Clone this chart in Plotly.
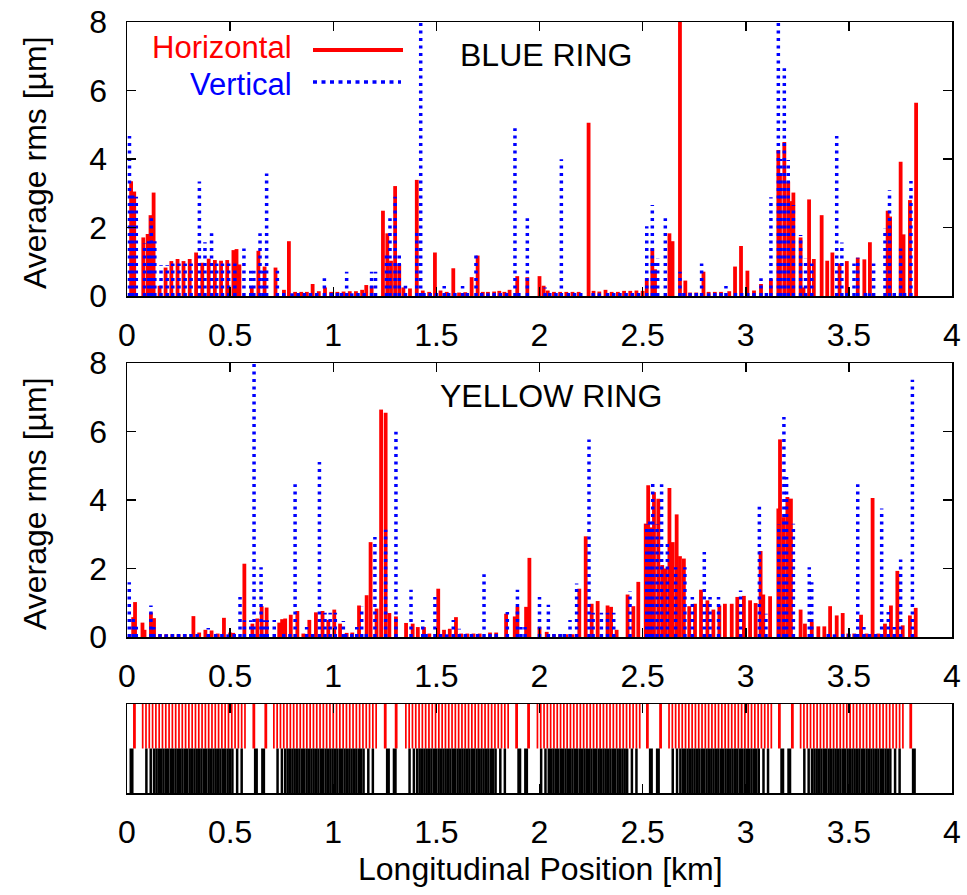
import plotly.graph_objects as go

FONT = "Liberation Sans, Arial, Helvetica, sans-serif"
W, H = 967, 895

# ---------------- BLUE RING ----------------
blue_h_pos = [0.020, 0.035, 0.079, 0.100, 0.114, 0.129, 0.158, 0.187, 0.215, 0.245,
              0.274, 0.304, 0.335, 0.365, 0.396, 0.426, 0.456, 0.486, 0.516, 0.531,
              0.545, 0.605, 0.637, 0.667, 0.720, 0.761, 0.785, 0.815, 0.845, 0.872,
              0.900, 0.930, 0.960, 0.990, 1.020, 1.050, 1.080, 1.110, 1.140, 1.160,
              1.186, 1.241, 1.262, 1.280, 1.300, 1.320, 1.340, 1.372, 1.405, 1.434,
              1.465, 1.493, 1.520, 1.550, 1.582, 1.610, 1.640, 1.671, 1.700, 1.725,
              1.750, 1.780, 1.805, 1.830, 1.855, 1.892, 1.941, 2.000, 2.020, 2.040,
              2.070, 2.100, 2.130, 2.160, 2.190, 2.238, 2.262, 2.290, 2.320, 2.350,
              2.380, 2.410, 2.440, 2.470, 2.500, 2.520, 2.547, 2.560, 2.630, 2.645,
              2.681, 2.707, 2.730, 2.760, 2.795, 2.820, 2.850, 2.880, 2.920, 2.948,
              2.977, 3.008, 3.040, 3.074, 3.122, 3.158, 3.166, 3.187, 3.206, 3.223,
              3.231, 3.266, 3.280, 3.307, 3.330, 3.368, 3.395, 3.420, 3.455, 3.490,
              3.543, 3.575, 3.602, 3.688, 3.700, 3.751, 3.765, 3.796, 3.826]
blue_h_val = [3.35, 3.05, 1.71, 1.81, 2.36, 3.02, 0.30, 0.83, 1.02, 1.08,
              1.02, 1.08, 1.27, 0.97, 1.09, 1.05, 1.03, 1.05, 1.34, 1.37,
              0.92, 0.27, 1.32, 0.86, 0.83, 0.18, 1.60, 0.12, 0.12, 0.12,
              0.35, 0.14, 0.25, 0.12, 0.12, 0.13, 0.14, 0.14, 0.18, 0.32,
              0.29, 2.49, 1.83, 1.03, 3.21, 0.93, 0.25, 0.22, 3.39, 0.16,
              0.12, 1.27, 0.16, 0.12, 0.81, 0.10, 0.11, 0.55, 1.18, 0.12,
              0.12, 0.13, 0.15, 0.12, 0.18, 0.58, 0.55, 0.58, 0.30, 0.16,
              0.12, 0.12, 0.12, 0.12, 0.12, 5.06, 0.15, 0.13, 0.18, 0.12,
              0.12, 0.15, 0.15, 0.16, 0.15, 0.52, 1.39, 0.78, 1.83, 1.60,
              8.50, 0.45, 0.10, 0.10, 0.71, 0.12, 0.12, 0.12, 0.14, 0.86,
              1.46, 0.74, 0.16, 0.35, 0.49, 4.26, 3.58, 4.50, 3.34, 2.77,
              3.02, 1.71, 0.25, 2.82, 1.08, 2.36, 1.03, 1.27, 0.95, 1.02,
              1.12, 1.07, 1.57, 2.49, 2.32, 3.92, 1.80, 2.80, 5.64]

blue_v_pos = [0.012, 0.028, 0.045, 0.085, 0.105, 0.118, 0.135, 0.165, 0.195, 0.222,
              0.252, 0.282, 0.311, 0.351, 0.378, 0.410, 0.435, 0.463, 0.493, 0.523,
              0.567, 0.600, 0.615, 0.645, 0.660, 0.677, 0.729, 0.957, 1.065, 1.186,
              1.205, 1.258, 1.275, 1.300, 1.320, 1.350, 1.405, 1.424, 1.538, 1.627,
              1.692, 1.881, 1.941, 2.027, 2.106, 2.140, 2.520, 2.547, 2.560, 2.573,
              2.610, 2.681, 2.786, 2.904, 3.074, 3.122, 3.158, 3.170, 3.187, 3.206,
              3.231, 3.266, 3.290, 3.320, 3.441, 3.466, 3.525, 3.543, 3.620, 3.675,
              3.697, 3.751, 3.801,
              0.760, 0.800, 0.830, 0.860, 0.890, 0.920, 0.990, 1.020, 1.040, 1.090,
              1.120, 1.150, 1.440, 1.470, 1.500, 1.560, 1.590, 1.650, 1.720, 1.750,
              1.780, 1.810, 1.840, 1.900, 2.050, 2.080, 2.170, 2.200, 2.260, 2.290,
              2.330, 2.360, 2.390, 2.420, 2.450, 2.480, 2.700, 2.730, 2.760, 2.820,
              2.850, 2.880, 2.950, 2.980, 3.010, 3.040, 3.100, 3.490, 3.580, 3.600,
              3.720, 3.770]
blue_v_val = [4.67, 3.00, 2.90, 1.55, 1.60, 2.27, 1.60, 0.90, 0.90, 0.95,
              0.95, 0.95, 0.95, 3.34, 1.57, 1.83, 0.95, 0.95, 0.95, 0.95,
              1.39, 0.74, 0.74, 1.83, 0.74, 3.58, 0.74, 0.52, 0.71, 0.71,
              0.71, 1.20, 2.27, 2.90, 1.20, 0.30, 1.95, 8.50, 0.29, 0.29,
              1.18, 4.90, 2.27, 0.25, 3.99, 0.22, 2.04, 2.66, 1.00, 1.10,
              2.27, 0.71, 0.95, 0.29, 0.52, 2.88, 8.50, 4.00, 6.65, 3.97,
              2.66, 1.78, 1.10, 0.95, 4.67, 1.56, 0.95, 1.12, 0.95, 1.98,
              3.09, 1.39, 3.36,
              0.10, 0.08, 0.10, 0.12, 0.10, 0.09, 0.10, 0.12, 0.10, 0.08,
              0.10, 0.10, 0.12, 0.10, 0.09, 0.10, 0.10, 0.12, 0.10, 0.08,
              0.10, 0.10, 0.12, 0.10, 0.10, 0.09, 0.10, 0.12, 0.10, 0.08,
              0.10, 0.10, 0.12, 0.10, 0.10, 0.09, 0.10, 0.12, 0.10, 0.08,
              0.10, 0.10, 0.12, 0.10, 0.10, 0.09, 0.10, 0.12, 0.10, 0.08,
              0.10, 0.10]

# ---------------- YELLOW RING ----------------
yellow_h_pos = [0.030, 0.039, 0.075, 0.085, 0.116, 0.124, 0.131, 0.160, 0.190, 0.220,
                0.250, 0.280, 0.322, 0.350, 0.380, 0.410, 0.440, 0.470, 0.500, 0.515,
                0.569, 0.608, 0.632, 0.653, 0.677, 0.738, 0.752, 0.767, 0.794, 0.826,
                0.855, 0.884, 0.916, 0.948, 0.976, 1.005, 1.033, 1.065, 1.092, 1.125,
                1.162, 1.181, 1.210, 1.232, 1.254, 1.272, 1.304, 1.353, 1.385, 1.410,
                1.440, 1.466, 1.509, 1.537, 1.565, 1.595, 1.620, 1.650, 1.680, 1.710,
                1.760, 1.790, 1.838, 1.880, 1.893, 1.935, 1.951, 2.000, 2.035, 2.070,
                2.100, 2.130, 2.160, 2.193, 2.224, 2.253, 2.282, 2.330, 2.347, 2.374,
                2.427, 2.455, 2.479, 2.515, 2.527, 2.540, 2.555, 2.576, 2.595, 2.612,
                2.630, 2.646, 2.665, 2.681, 2.700, 2.726, 2.754, 2.783, 2.814, 2.843,
                2.872, 2.899, 2.932, 2.959, 2.991, 3.021, 3.048, 3.072, 3.085, 3.118,
                3.158, 3.166, 3.184, 3.202, 3.219, 3.266, 3.287, 3.320, 3.352, 3.381,
                3.409, 3.441, 3.470, 3.497, 3.526, 3.559, 3.586, 3.615, 3.643, 3.675,
                3.704, 3.735, 3.761, 3.796, 3.824]
yellow_h_val = [0.58, 1.02, 0.42, 0.21, 0.71, 0.34, 0.55, 0.08, 0.08, 0.08,
                0.08, 0.08, 0.61, 0.13, 0.21, 0.19, 0.10, 0.56, 0.13, 0.12,
                2.14, 0.39, 0.54, 0.90, 0.86, 0.42, 0.52, 0.54, 0.65, 0.76,
                0.10, 0.50, 0.72, 0.76, 0.50, 0.80, 0.39, 0.12, 0.13, 0.92,
                1.22, 2.77, 0.83, 6.64, 6.55, 0.70, 0.60, 0.41, 0.39, 0.29,
                0.29, 0.10, 1.41, 0.21, 0.24, 0.58, 0.10, 0.10, 0.10, 0.10,
                0.13, 0.13, 0.68, 0.60, 0.88, 0.88, 2.31, 0.29, 0.15, 0.08,
                0.08, 0.08, 0.08, 1.41, 2.94, 0.97, 1.05, 0.92, 0.88, 0.21,
                1.24, 0.90, 1.61, 3.31, 4.43, 3.20, 4.23, 4.04, 2.10, 2.00,
                4.35, 2.77, 3.58, 2.36, 2.29, 0.90, 0.97, 1.38, 1.07, 0.80,
                0.92, 0.97, 0.97, 1.17, 1.20, 1.07, 0.99, 2.51, 1.24, 1.19,
                3.75, 5.77, 3.50, 4.09, 4.04, 0.80, 0.39, 0.44, 0.31, 0.31,
                0.90, 0.63, 0.70, 0.10, 0.10, 0.65, 0.10, 4.06, 0.10, 0.39,
                0.92, 1.93, 0.34, 0.63, 0.85]

yellow_v_pos = [0.011, 0.030, 0.045, 0.116, 0.130, 0.394, 0.548, 0.569, 0.600, 0.616,
                0.650, 0.665, 0.680, 0.714, 0.815, 0.871, 0.933, 0.960, 0.985, 1.010,
                1.049, 1.114, 1.138, 1.202, 1.254, 1.304, 1.377, 1.434, 1.493, 1.582,
                1.611, 1.731, 1.844, 1.893, 1.910, 1.930, 2.000, 2.043, 2.148, 2.180,
                2.240, 2.260, 2.300, 2.330, 2.360, 2.439, 2.520, 2.535, 2.549, 2.570,
                2.592, 2.620, 2.660, 2.705, 2.741, 2.799, 2.827, 2.868, 2.975, 3.066,
                3.098, 3.160, 3.185, 3.198, 3.231, 3.308, 3.320, 3.543, 3.573, 3.659,
                3.691, 3.720, 3.751, 3.808,
                0.160, 0.190, 0.220, 0.250, 0.280, 0.310, 0.340, 0.430, 0.460, 0.490,
                0.520, 0.760, 0.790, 0.900, 1.060, 1.090, 1.160, 1.450, 1.520, 1.550,
                1.640, 1.670, 1.700, 1.760, 1.790, 2.070, 2.100, 2.120, 3.400, 3.430,
                3.470, 3.500, 3.530, 3.600, 3.630]
yellow_v_val = [1.60, 0.60, 0.30, 0.92, 0.29, 0.26, 1.17, 0.49, 0.49, 8.50,
                2.04, 0.49, 0.49, 0.50, 4.46, 0.29, 5.11, 0.71, 0.71, 0.71,
                0.47, 0.29, 0.88, 2.92, 3.13, 5.99, 1.38, 0.50, 1.17, 0.50,
                0.24, 1.83, 0.73, 1.38, 0.29, 0.29, 1.17, 0.94, 0.50, 1.56,
                5.77, 0.71, 0.71, 0.71, 0.71, 1.33, 3.30, 3.50, 4.60, 3.30,
                4.46, 2.77, 2.04, 2.04, 1.17, 2.48, 1.17, 1.17, 1.36, 3.80,
                0.68, 3.30, 6.42, 4.67, 3.31, 2.04, 1.60, 4.46, 0.29, 3.75,
                0.73, 0.29, 2.26, 7.51,
                0.10, 0.08, 0.10, 0.12, 0.10, 0.09, 0.10, 0.12, 0.10, 0.08,
                0.10, 0.10, 0.12, 0.10, 0.10, 0.09, 0.10, 0.12, 0.10, 0.08,
                0.10, 0.10, 0.12, 0.10, 0.10, 0.09, 0.10, 0.12, 0.10, 0.08,
                0.10, 0.10, 0.12, 0.10, 0.10]

assert len(blue_h_pos) == len(blue_h_val)
assert len(blue_v_pos) == len(blue_v_val)
assert len(yellow_h_pos) == len(yellow_h_val)
assert len(yellow_v_pos) == len(yellow_v_val)

# ---------------- magnet strip ----------------
arc_start = [0.076, 0.712, 1.352, 1.990, 2.628, 3.266]
dipole_offsets = [0.000, 0.016, 0.032, 0.048, 0.064, 0.080, 0.096, 0.112, 0.128, 0.144,
                  0.160, 0.176, 0.192, 0.208, 0.224, 0.240, 0.256, 0.272, 0.288, 0.304,
                  0.320, 0.336, 0.352, 0.368, 0.384, 0.400, 0.416, 0.432, 0.448, 0.464,
                  0.480, 0.496]
quad_offsets = [0.018, 0.039,
                0.055, 0.067, 0.078, 0.090, 0.101, 0.113, 0.124, 0.136, 0.147, 0.159,
                0.170, 0.182, 0.193, 0.205, 0.216, 0.228, 0.239, 0.251, 0.262, 0.274,
                0.285, 0.297, 0.308, 0.320, 0.331, 0.343, 0.354, 0.366, 0.377, 0.389,
                0.400, 0.412, 0.423, 0.435,
                0.458, 0.480]
red_single = [0.036, 0.615, 0.673, 1.252, 1.305, 1.889, 1.947, 2.523, 2.587, 3.163, 3.226, 3.800]
black_single = [0.022, 0.625, 0.660, 1.265, 1.298, 1.902, 1.935, 2.540, 2.574, 3.177, 3.211, 3.815]

x_ticks = [0, 0.5, 1, 1.5, 2, 2.5, 3, 3.5, 4]
x_ticktext = ["0", "0.5", "1", "1.5", "2", "2.5", "3", "3.5", "4"]
y_ticks = [0, 2, 4, 6, 8]


def stems(pos, val, base=0.0):
    xs, ys = [], []
    for p, v in zip(pos, val):
        xs += [p, p, None]
        ys += [base, base + v, None]
    return xs, ys


RED = "#ff0000"
BLUE = "#0000ff"
fig = go.Figure()

panels = [("x", "y", blue_h_pos, blue_h_val, blue_v_pos, blue_v_val),
          ("x2", "y2", yellow_h_pos, yellow_h_val, yellow_v_pos, yellow_v_val)]
for xa, ya, hp, hv, vp, vv in panels:
    x, y = stems(hp, hv)
    fig.add_trace(go.Scatter(x=x, y=y, mode="lines", xaxis=xa, yaxis=ya,
                             line=dict(color=RED, width=3.8),
                             showlegend=False, hoverinfo="skip"))
    x, y = stems(vp, vv)
    fig.add_trace(go.Scatter(x=x, y=y, mode="lines", xaxis=xa, yaxis=ya,
                             line=dict(color=BLUE, width=3.5, dash="3px,4.5px"),
                             showlegend=False, hoverinfo="skip"))

# strip
dip_pos = [s + o for s in arc_start for o in dipole_offsets]
quad_pos = [s + o for s in arc_start for o in quad_offsets]
x, y = stems(dip_pos, [1.0] * len(dip_pos), base=1.0)
fig.add_trace(go.Scatter(x=x, y=y, mode="lines", xaxis="x3", yaxis="y3",
                         line=dict(color=RED, width=1.7), showlegend=False, hoverinfo="skip"))
x, y = stems(red_single, [1.0] * len(red_single), base=1.0)
fig.add_trace(go.Scatter(x=x, y=y, mode="lines", xaxis="x3", yaxis="y3",
                         line=dict(color=RED, width=2.8), showlegend=False, hoverinfo="skip"))
x, y = stems(quad_pos, [1.0] * len(quad_pos), base=0.0)
fig.add_trace(go.Scatter(x=x, y=y, mode="lines", xaxis="x3", yaxis="y3",
                         line=dict(color="black", width=2.5), showlegend=False, hoverinfo="skip"))
x, y = stems(black_single, [1.0] * len(black_single), base=0.0)
fig.add_trace(go.Scatter(x=x, y=y, mode="lines", xaxis="x3", yaxis="y3",
                         line=dict(color="black", width=4), showlegend=False, hoverinfo="skip"))


def fx(px):
    return px / W


def fy(py):
    return 1 - py / H


X0, X1 = 127, 952
xdom = [fx(X0), fx(X1)]


def ydom(top, bottom):
    return [fy(bottom), fy(top)]


common = dict(showline=True, linecolor="black", linewidth=1.5, mirror="ticks",
              ticks="inside", ticklen=9, tickwidth=1.5, tickcolor="black",
              showgrid=False, zeroline=False, automargin=False,
              ticklabeloverflow="allow",
              tickfont=dict(family=FONT, size=32, color="black"))

xcommon = dict(common, range=[0, 4], tickvals=x_ticks, ticktext=x_ticktext,
               domain=xdom, ticklabelstandoff=10)
ycommon = dict(common, range=[0, 8], tickvals=y_ticks, ticklabelstandoff=12)

fig.update_layout(
    width=W, height=H, margin=dict(l=0, r=0, t=0, b=0, autoexpand=False),
    paper_bgcolor="white", plot_bgcolor="white",
    xaxis=dict(xcommon, anchor="y"),
    yaxis=dict(ycommon, domain=ydom(22, 296), anchor="x"),
    xaxis2=dict(xcommon, anchor="y2"),
    yaxis2=dict(ycommon, domain=ydom(363, 637), anchor="x2"),
    xaxis3=dict(xcommon, anchor="y3"),
    yaxis3=dict(showline=True, linecolor="black", linewidth=1.5, mirror=True,
                ticks="", showticklabels=False, showgrid=False, zeroline=False,
                automargin=False, range=[0, 2], domain=ydom(704, 793), anchor="x3"),
    showlegend=False,
)


def ann(text, x, y, size=32, color="black", xanchor="center", angle=0):
    fig.add_annotation(text=text, x=fx(x), y=fy(y), xref="paper", yref="paper",
                       showarrow=False, xanchor=xanchor, yanchor="middle",
                       textangle=angle, font=dict(family=FONT, size=size, color=color))


ann("Average rms [µm]", 35, 163, angle=-90)
ann("Average rms [µm]", 35, 504, angle=-90)
ann("Longitudinal Position [km]", 540, 869)
ann("BLUE RING", 546, 55)
ann("YELLOW RING", 551, 396)
ann("Horizontal", 294, 48, size=31, color=RED, xanchor="right")
ann("Vertical", 294, 84, size=31, color=BLUE, xanchor="right")

fig.add_shape(type="line", xref="paper", yref="paper",
              x0=fx(313), x1=fx(403), y0=fy(50), y1=fy(50),
              line=dict(color=RED, width=4))
fig.add_shape(type="line", xref="paper", yref="paper",
              x0=fx(313), x1=fx(401), y0=fy(82), y1=fy(82),
              line=dict(color=BLUE, width=3.5, dash="4px,4.5px"))

# remove the browser's default page margin so the figure fills the window exactly
fig.write_html("out.html",
               config={"displayModeBar": False, "staticPlot": True},
               post_script="document.body.style.margin='0';document.body.style.overflow='hidden';")
